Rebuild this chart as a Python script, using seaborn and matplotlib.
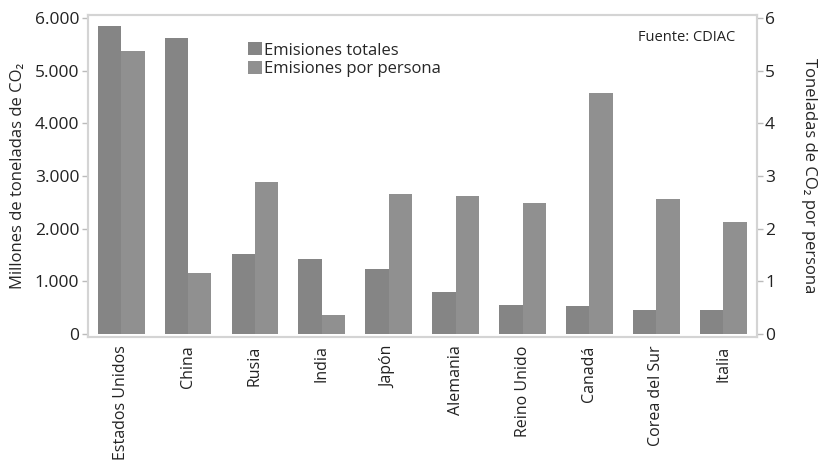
"""
Emisiones de CO2: totales (eje izquierdo) y por persona (eje derecho)
"""

import matplotlib
matplotlib.use('Agg')
import matplotlib.pyplot as plt
from matplotlib.patches import Patch
import pandas as pd
import seaborn as sns

# Datos
paises = ['Estados Unidos', 'China', 'Rusia', 'India', 'Japón', 'Alemania',
          'Reino Unido', 'Canadá', 'Corea del Sur', 'Italia']
emisiones_totales = [5850, 5620, 1510, 1430, 1230, 790, 550, 540, 460, 450]
emisiones_persona = [5.38, 1.16, 2.88, 0.36, 2.65, 2.62, 2.49, 4.57, 2.57, 2.13]

series = ['Emisiones totales', 'Emisiones por persona']
colores = ['#858585', '#909090']
ticks_izq = [0, 1000, 2000, 3000, 4000, 5000, 6000]
etiquetas_izq = ['0', '1.000', '2.000', '3.000', '4.000', '5.000', '6.000']
ticks_der = [0, 1, 2, 3, 4, 5, 6]

sns.set_theme(style='white')
plt.rcParams['font.family'] = ['Open Sans', 'DejaVu Sans']

df_tot = pd.DataFrame({'pais': paises, 'valor': emisiones_totales, 'serie': series[0]})
df_per = pd.DataFrame({'pais': paises, 'valor': emisiones_persona, 'serie': series[1]})

fig = plt.figure(figsize=(8.27, 4.65), dpi=100)
ax = fig.add_axes([0.106, 0.275, 0.809, 0.693])
ax2 = ax.twinx()

paleta = dict(zip(series, colores))
sns.barplot(data=df_tot, x='pais', y='valor', hue='serie', hue_order=series,
            order=paises, palette=paleta, width=0.7, saturation=1, dodge=True,
            linewidth=0, legend=False, ax=ax)
sns.barplot(data=df_per, x='pais', y='valor', hue='serie', hue_order=series,
            order=paises, palette=paleta, width=0.7, saturation=1, dodge=True,
            linewidth=0, legend=False, ax=ax2)

ax.set_xlim(-0.5, len(paises) - 0.5)
ax.set_ylim(-60, 6060)
ax2.set_ylim(-0.06, 6.06)

ax.set_yticks(ticks_izq)
ax.set_yticklabels(etiquetas_izq, fontsize=12.5)
ax2.set_yticks(ticks_der)
ax2.set_yticklabels([str(t) for t in ticks_der], fontsize=12.5)
ax.set_xticks(range(len(paises)))
ax.set_xticklabels(paises, rotation=90, fontsize=11.5)
ax.set_xlabel('')
ax.set_ylabel('Millones de toneladas de CO₂', fontsize=12, labelpad=6)
ax2.set_ylabel('Toneladas de CO₂ por persona', fontsize=12, rotation=270,
               labelpad=30)

for a in (ax, ax2):
    for s in a.spines.values():
        s.set_color('#d4d4d4')
        s.set_linewidth(1.5)
    a.tick_params(axis='y', length=4, width=1, color='#bbbbbb', pad=2,
                  labelcolor='#222222')
ax.tick_params(axis='x', length=0, pad=6, labelcolor='#222222')
ax.tick_params(axis='y', left=True, right=False)
ax2.tick_params(axis='y', right=True, left=False)

handles = [Patch(facecolor=c, edgecolor='none') for c in colores]
ax.legend(handles, series, loc='upper left', bbox_to_anchor=(0.23, 0.935),
          frameon=False, fontsize=12, handlelength=0.8, handleheight=0.8,
          handletextpad=0.15, labelspacing=0.15, borderaxespad=0)

ax.text(0.968, 0.93, 'Fuente: CDIAC', transform=ax.transAxes, ha='right',
        va='center', fontsize=10.5, color='#222222')

fig.savefig('out.png', dpi=100)
plt.close(fig)
